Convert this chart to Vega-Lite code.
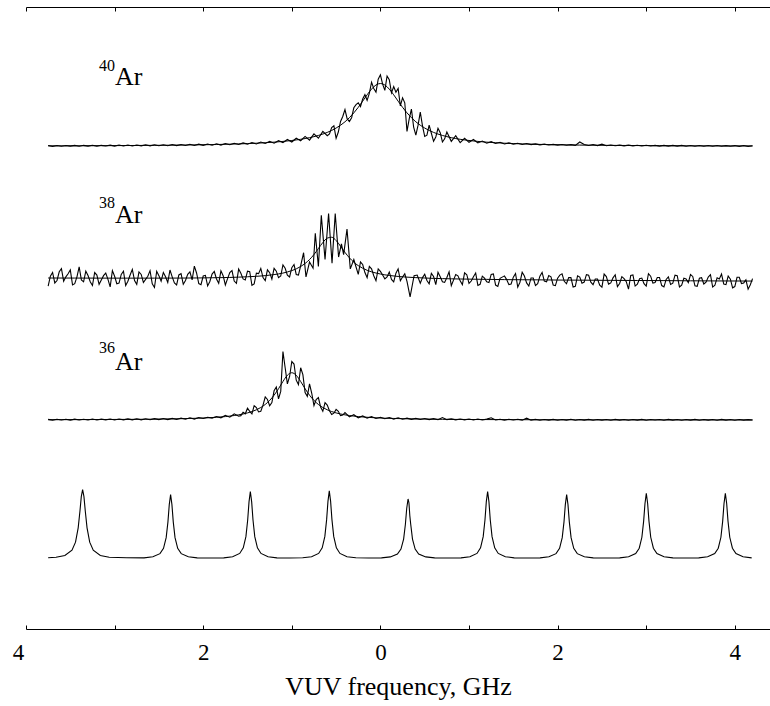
{
"$schema": "https://vega.github.io/schema/vega-lite/v6.json",
"width": 744,
"height": 622,
"autosize": {"type": "none"},
"padding": {"left": 26, "top": 7, "right": 0, "bottom": 77},
"background": "white",
"config": {"view": {"stroke": null}, "font": "Liberation Serif", "line": {"color": "black", "strokeWidth": 1}, "axis": {"domain": true, "domainWidth": 1, "domainOpacity": 1, "domainColor": "black"}},
"datasets": {
"dat40": [{"x":-3.75,"y":77.72},{"x":-3.70,"y":77.60},{"x":-3.65,"y":77.74},{"x":-3.60,"y":77.62},{"x":-3.55,"y":77.73},{"x":-3.50,"y":77.63},{"x":-3.45,"y":77.75},{"x":-3.40,"y":77.62},{"x":-3.35,"y":77.76},{"x":-3.30,"y":77.64},{"x":-3.25,"y":77.77},{"x":-3.20,"y":77.63},{"x":-3.15,"y":77.76},{"x":-3.10,"y":77.65},{"x":-3.05,"y":77.79},{"x":-3.00,"y":77.64},{"x":-2.95,"y":77.80},{"x":-2.90,"y":77.66},{"x":-2.85,"y":77.81},{"x":-2.80,"y":77.66},{"x":-2.75,"y":77.82},{"x":-2.70,"y":77.67},{"x":-2.65,"y":77.84},{"x":-2.60,"y":77.68},{"x":-2.55,"y":77.85},{"x":-2.50,"y":77.69},{"x":-2.45,"y":77.86},{"x":-2.40,"y":77.70},{"x":-2.35,"y":77.88},{"x":-2.30,"y":77.71},{"x":-2.25,"y":77.90},{"x":-2.20,"y":77.73},{"x":-2.15,"y":77.93},{"x":-2.10,"y":77.74},{"x":-2.05,"y":77.95},{"x":-2.00,"y":77.76},{"x":-1.95,"y":77.98},{"x":-1.90,"y":77.78},{"x":-1.85,"y":78.02},{"x":-1.80,"y":77.80},{"x":-1.75,"y":78.06},{"x":-1.70,"y":77.85},{"x":-1.65,"y":78.10},{"x":-1.60,"y":77.90},{"x":-1.55,"y":78.15},{"x":-1.50,"y":77.95},{"x":-1.45,"y":78.20},{"x":-1.40,"y":77.98},{"x":-1.35,"y":78.30},{"x":-1.30,"y":78.05},{"x":-1.25,"y":78.40},{"x":-1.20,"y":78.10},{"x":-1.15,"y":78.50},{"x":-1.10,"y":78.20},{"x":-1.05,"y":78.70},{"x":-1.00,"y":78.30},{"x":-0.95,"y":78.90},{"x":-0.90,"y":78.50},{"x":-0.85,"y":79.20},{"x":-0.80,"y":78.60},{"x":-0.75,"y":79.60},{"x":-0.70,"y":78.90},{"x":-0.65,"y":80.00},{"x":-0.60,"y":79.30},{"x":-0.55,"y":80.60},{"x":-0.50,"y":78.90},{"x":-0.45,"y":81.60},{"x":-0.40,"y":83.50},{"x":-0.35,"y":81.60},{"x":-0.30,"y":83.80},{"x":-0.25,"y":84.60},{"x":-0.20,"y":85.20},{"x":-0.15,"y":85.00},{"x":-0.10,"y":87.90},{"x":-0.05,"y":86.30},{"x":0.00,"y":89.10},{"x":0.05,"y":86.60},{"x":0.10,"y":88.30},{"x":0.15,"y":87.20},{"x":0.20,"y":86.90},{"x":0.25,"y":85.40},{"x":0.30,"y":80.00},{"x":0.35,"y":83.60},{"x":0.40,"y":79.40},{"x":0.45,"y":83.10},{"x":0.50,"y":79.20},{"x":0.55,"y":81.00},{"x":0.60,"y":78.40},{"x":0.65,"y":80.50},{"x":0.70,"y":78.30},{"x":0.75,"y":79.90},{"x":0.80,"y":78.40},{"x":0.85,"y":79.30},{"x":0.90,"y":78.20},{"x":0.95,"y":78.90},{"x":1.00,"y":78.25},{"x":1.05,"y":78.70},{"x":1.10,"y":78.15},{"x":1.15,"y":78.45},{"x":1.20,"y":78.10},{"x":1.25,"y":78.35},{"x":1.30,"y":78.05},{"x":1.35,"y":78.25},{"x":1.40,"y":77.98},{"x":1.45,"y":78.15},{"x":1.50,"y":77.95},{"x":1.55,"y":78.10},{"x":1.60,"y":77.90},{"x":1.65,"y":78.05},{"x":1.70,"y":77.88},{"x":1.75,"y":78.00},{"x":1.80,"y":77.84},{"x":1.85,"y":77.95},{"x":1.90,"y":77.82},{"x":1.95,"y":77.92},{"x":2.00,"y":77.80},{"x":2.05,"y":77.90},{"x":2.10,"y":77.78},{"x":2.15,"y":77.88},{"x":2.20,"y":77.76},{"x":2.25,"y":78.30},{"x":2.30,"y":77.90},{"x":2.35,"y":77.74},{"x":2.40,"y":77.90},{"x":2.45,"y":77.72},{"x":2.50,"y":77.95},{"x":2.55,"y":77.70},{"x":2.60,"y":77.82},{"x":2.65,"y":77.70},{"x":2.70,"y":77.80},{"x":2.75,"y":77.68},{"x":2.80,"y":77.79},{"x":2.85,"y":77.67},{"x":2.90,"y":77.78},{"x":2.95,"y":77.66},{"x":3.00,"y":77.77},{"x":3.05,"y":77.65},{"x":3.10,"y":77.76},{"x":3.15,"y":77.64},{"x":3.20,"y":77.76},{"x":3.25,"y":77.64},{"x":3.30,"y":77.75},{"x":3.35,"y":77.63},{"x":3.40,"y":77.75},{"x":3.45,"y":77.62},{"x":3.50,"y":77.74},{"x":3.55,"y":77.62},{"x":3.60,"y":77.74},{"x":3.65,"y":77.62},{"x":3.70,"y":77.73},{"x":3.75,"y":77.61},{"x":3.80,"y":77.73},{"x":3.85,"y":77.61},{"x":3.90,"y":77.72},{"x":3.95,"y":77.61},{"x":4.00,"y":77.72},{"x":4.05,"y":77.60},{"x":4.10,"y":77.72},{"x":4.15,"y":77.60},{"x":4.20,"y":77.70},
{"x":-0.575,"y":79.6},{"x":-0.525,"y":80.9},{"x":-0.475,"y":79.9},{"x":-0.425,"y":82.4},{"x":-0.375,"y":82.0},{"x":-0.325,"y":82.2},{"x":-0.275,"y":84.3},{"x":-0.225,"y":84.0},{"x":-0.175,"y":85.9},{"x":-0.125,"y":86.1},{"x":-0.075,"y":86.9},{"x":-0.025,"y":88.4},{"x":0.025,"y":87.6},{"x":0.075,"y":88.9},{"x":0.125,"y":86.2},{"x":0.175,"y":86.3},{"x":0.225,"y":84.1},{"x":0.275,"y":84.6},{"x":0.325,"y":82.0},{"x":0.375,"y":80.7},{"x":0.425,"y":81.0},{"x":0.475,"y":80.9},{"x":0.525,"y":79.4},{"x":0.575,"y":79.7},{"x":0.625,"y":79.1},{"x":0.675,"y":79.8},{"x":0.725,"y":78.8}],
"fit40": [{"x":-3.75,"y":77.67},{"x":-3.45,"y":77.68},{"x":-3.15,"y":77.70},{"x":-2.85,"y":77.73},{"x":-2.55,"y":77.76},{"x":-2.25,"y":77.80},{"x":-2.05,"y":77.84},{"x":-1.85,"y":77.89},{"x":-1.70,"y":77.95},{"x":-1.60,"y":77.99},{"x":-1.50,"y":78.04},{"x":-1.40,"y":78.10},{"x":-1.30,"y":78.18},{"x":-1.20,"y":78.27},{"x":-1.10,"y":78.39},{"x":-1.00,"y":78.54},{"x":-0.95,"y":78.63},{"x":-0.90,"y":78.73},{"x":-0.85,"y":78.85},{"x":-0.80,"y":78.99},{"x":-0.75,"y":79.16},{"x":-0.70,"y":79.35},{"x":-0.65,"y":79.57},{"x":-0.60,"y":79.84},{"x":-0.55,"y":80.15},{"x":-0.50,"y":80.54},{"x":-0.45,"y":80.99},{"x":-0.40,"y":81.54},{"x":-0.35,"y":82.20},{"x":-0.30,"y":82.98},{"x":-0.25,"y":83.87},{"x":-0.20,"y":84.86},{"x":-0.15,"y":85.88},{"x":-0.10,"y":86.80},{"x":-0.05,"y":87.46},{"x":0.00,"y":87.70},{"x":0.05,"y":87.46},{"x":0.10,"y":86.80},{"x":0.15,"y":85.88},{"x":0.20,"y":84.86},{"x":0.25,"y":83.87},{"x":0.30,"y":82.98},{"x":0.35,"y":82.20},{"x":0.40,"y":81.54},{"x":0.45,"y":80.99},{"x":0.50,"y":80.54},{"x":0.55,"y":80.15},{"x":0.60,"y":79.84},{"x":0.65,"y":79.57},{"x":0.70,"y":79.35},{"x":0.75,"y":79.16},{"x":0.80,"y":78.99},{"x":0.85,"y":78.85},{"x":0.90,"y":78.73},{"x":0.95,"y":78.63},{"x":1.00,"y":78.54},{"x":1.10,"y":78.39},{"x":1.20,"y":78.27},{"x":1.30,"y":78.18},{"x":1.40,"y":78.10},{"x":1.50,"y":78.04},{"x":1.60,"y":77.99},{"x":1.70,"y":77.95},{"x":1.85,"y":77.89},{"x":2.05,"y":77.84},{"x":2.25,"y":77.80},{"x":2.55,"y":77.76},{"x":2.85,"y":77.73},{"x":3.15,"y":77.70},{"x":3.45,"y":77.68},{"x":3.80,"y":77.67},{"x":4.20,"y":77.66}],
"dat38": [{"x":-3.75,"y":55.13},{"x":-3.70,"y":57.33},{"x":-3.65,"y":56.03},{"x":-3.60,"y":57.93},{"x":-3.55,"y":56.62},{"x":-3.50,"y":57.72},{"x":-3.45,"y":55.52},{"x":-3.40,"y":58.22},{"x":-3.35,"y":55.82},{"x":-3.30,"y":56.82},{"x":-3.25,"y":55.22},{"x":-3.20,"y":56.91},{"x":-3.15,"y":56.11},{"x":-3.10,"y":57.21},{"x":-3.05,"y":55.01},{"x":-3.00,"y":56.71},{"x":-2.95,"y":55.61},{"x":-2.90,"y":57.51},{"x":-2.85,"y":55.91},{"x":-2.80,"y":57.81},{"x":-2.75,"y":55.41},{"x":-2.70,"y":57.01},{"x":-2.65,"y":56.21},{"x":-2.60,"y":57.61},{"x":-2.55,"y":54.91},{"x":-2.50,"y":56.81},{"x":-2.45,"y":57.32},{"x":-2.40,"y":55.72},{"x":-2.35,"y":56.62},{"x":-2.30,"y":55.32},{"x":-2.25,"y":57.12},{"x":-2.20,"y":56.03},{"x":-2.15,"y":57.43},{"x":-2.10,"y":58.34},{"x":-2.05,"y":55.54},{"x":-2.00,"y":56.75},{"x":-1.95,"y":55.16},{"x":-1.90,"y":57.07},{"x":-1.85,"y":56.28},{"x":-1.80,"y":57.59},{"x":-1.75,"y":55.31},{"x":-1.70,"y":57.32},{"x":-1.65,"y":55.94},{"x":-1.60,"y":57.87},{"x":-1.55,"y":56.29},{"x":-1.50,"y":57.53},{"x":-1.45,"y":55.26},{"x":-1.40,"y":57.20},{"x":-1.35,"y":57.96},{"x":-1.30,"y":56.01},{"x":-1.25,"y":57.29},{"x":-1.20,"y":57.98},{"x":-1.15,"y":56.48},{"x":-1.10,"y":58.52},{"x":-1.05,"y":56.9},{"x":-1.00,"y":58.1},{"x":-0.95,"y":57.0},{"x":-0.90,"y":58.4},{"x":-0.867,"y":60.5},{"x":-0.84,"y":56.6},{"x":-0.80,"y":59.0},{"x":-0.76,"y":58.0},{"x":-0.735,"y":63.6},{"x":-0.70,"y":58.3},{"x":-0.667,"y":66.5},{"x":-0.625,"y":59.4},{"x":-0.585,"y":66.8},{"x":-0.546,"y":58.8},{"x":-0.51,"y":66.8},{"x":-0.472,"y":59.8},{"x":-0.44,"y":61.9},{"x":-0.415,"y":60.2},{"x":-0.377,"y":64.3},{"x":-0.34,"y":57.9},{"x":-0.30,"y":59.4},{"x":-0.25,"y":57.0},{"x":-0.20,"y":58.6},{"x":-0.15,"y":56.5},{"x":-0.10,"y":57.9},{"x":-0.05,"y":56.0},{"x":0.00,"y":57.5},{"x":0.05,"y":56.3},{"x":0.10,"y":57.4},{"x":0.15,"y":55.8},{"x":0.20,"y":57.9},{"x":0.25,"y":56.6},{"x":0.30,"y":55.9},{"x":0.335,"y":53.4},{"x":0.38,"y":56.8},{"x":0.45,"y":55.6},{"x":0.50,"y":57.03},{"x":0.55,"y":55.50},{"x":0.60,"y":56.67},{"x":0.65,"y":57.35},{"x":0.70,"y":55.83},{"x":0.75,"y":56.52},{"x":0.80,"y":55.20},{"x":0.85,"y":56.98},{"x":0.90,"y":55.97},{"x":0.95,"y":57.26},{"x":1.00,"y":55.55},{"x":1.05,"y":56.64},{"x":1.10,"y":55.23},{"x":1.15,"y":56.72},{"x":1.20,"y":55.81},{"x":1.25,"y":57.00},{"x":1.30,"y":55.29},{"x":1.35,"y":56.38},{"x":1.40,"y":56.77},{"x":1.45,"y":55.37},{"x":1.50,"y":56.56},{"x":1.55,"y":54.95},{"x":1.60,"y":57.35},{"x":1.65,"y":55.64},{"x":1.70,"y":56.44},{"x":1.75,"y":55.23},{"x":1.80,"y":56.73},{"x":1.85,"y":55.92},{"x":1.90,"y":56.81},{"x":1.95,"y":55.31},{"x":2.00,"y":56.40},{"x":2.05,"y":57.10},{"x":2.10,"y":55.50},{"x":2.15,"y":56.49},{"x":2.20,"y":55.09},{"x":2.25,"y":56.58},{"x":2.30,"y":55.78},{"x":2.35,"y":56.87},{"x":2.40,"y":55.37},{"x":2.45,"y":56.26},{"x":2.50,"y":54.96},{"x":2.55,"y":56.66},{"x":2.60,"y":55.65},{"x":2.65,"y":56.95},{"x":2.70,"y":55.54},{"x":2.75,"y":56.34},{"x":2.80,"y":54.64},{"x":2.85,"y":56.93},{"x":2.90,"y":55.43},{"x":2.95,"y":56.42},{"x":3.00,"y":55.12},{"x":3.05,"y":56.72},{"x":3.10,"y":55.71},{"x":3.15,"y":56.51},{"x":3.20,"y":55.01},{"x":3.25,"y":56.60},{"x":3.30,"y":55.60},{"x":3.35,"y":56.79},{"x":3.40,"y":55.29},{"x":3.45,"y":56.29},{"x":3.50,"y":56.98},{"x":3.55,"y":55.18},{"x":3.60,"y":56.38},{"x":3.65,"y":55.47},{"x":3.70,"y":56.57},{"x":3.75,"y":54.97},{"x":3.80,"y":56.46},{"x":3.85,"y":57.06},{"x":3.90,"y":55.36},{"x":3.95,"y":56.25},{"x":4.00,"y":55.05},{"x":4.05,"y":56.55},{"x":4.10,"y":55.64},{"x":4.15,"y":54.64},{"x":4.20,"y":56.34},
{"x":-3.725,"y":56.73},{"x":-3.675,"y":55.63},{"x":-3.625,"y":57.43},{"x":-3.575,"y":55.92},{"x":-3.525,"y":57.12},{"x":-3.475,"y":55.32},{"x":-3.425,"y":56.62},{"x":-3.375,"y":56.12},{"x":-3.325,"y":57.52},{"x":-3.275,"y":55.82},{"x":-3.225,"y":57.31},{"x":-3.175,"y":55.41},{"x":-3.125,"y":56.81},{"x":-3.075,"y":56.21},{"x":-3.025,"y":57.61},{"x":-2.975,"y":55.51},{"x":-2.925,"y":57.01},{"x":-2.875,"y":55.21},{"x":-2.825,"y":56.91},{"x":-2.775,"y":56.01},{"x":-2.725,"y":57.41},{"x":-2.675,"y":55.71},{"x":-2.625,"y":56.71},{"x":-2.575,"y":55.51},{"x":-2.525,"y":57.51},{"x":-2.475,"y":55.92},{"x":-2.425,"y":56.62},{"x":-2.375,"y":57.72},{"x":-2.325,"y":55.62},{"x":-2.275,"y":56.92},{"x":-2.225,"y":55.42},{"x":-2.175,"y":57.03},{"x":-2.125,"y":56.14},{"x":-2.075,"y":57.24},{"x":-2.025,"y":55.35},{"x":-1.975,"y":56.86},{"x":-1.925,"y":55.87},{"x":-1.875,"y":57.48},{"x":-1.825,"y":55.59},{"x":-1.775,"y":56.80},{"x":-1.725,"y":56.32},{"x":-1.675,"y":57.63},{"x":-1.625,"y":55.56},{"x":-1.575,"y":57.18},{"x":-1.525,"y":56.11},{"x":-1.475,"y":57.45},{"x":-1.425,"y":55.48},{"x":-1.375,"y":57.13},{"x":-1.325,"y":56.49},{"x":-1.275,"y":57.75},{"x":-1.225,"y":56.24},{"x":-1.175,"y":57.53},{"x":-1.125,"y":56.75},
{"x":-1.075,"y":58.0},{"x":-1.025,"y":56.6},{"x":-0.975,"y":58.6},{"x":-0.925,"y":56.9},{"x":-0.275,"y":58.2},{"x":-0.225,"y":59.0},{"x":-0.175,"y":57.3},{"x":-0.125,"y":58.3},{"x":-0.075,"y":56.8},{"x":-0.025,"y":57.9},{"x":0.025,"y":56.9},{"x":0.075,"y":56.6},{"x":0.125,"y":56.2},{"x":0.175,"y":57.2},{"x":0.225,"y":56.0},{"x":0.275,"y":57.1},{"x":0.415,"y":56.9},{"x":0.475,"y":56.5},
{"x":0.525,"y":56.02},{"x":0.575,"y":57.18},{"x":0.625,"y":55.36},{"x":0.675,"y":56.64},{"x":0.725,"y":55.72},{"x":0.775,"y":57.41},{"x":0.825,"y":56.09},{"x":0.875,"y":56.78},{"x":0.925,"y":55.37},{"x":0.975,"y":56.96},{"x":1.025,"y":55.94},{"x":1.075,"y":57.23},{"x":1.125,"y":55.42},{"x":1.175,"y":56.41},{"x":1.225,"y":55.70},{"x":1.275,"y":57.09},{"x":1.325,"y":55.08},{"x":1.375,"y":56.57},{"x":1.425,"y":56.17},{"x":1.475,"y":55.46},{"x":1.525,"y":57.15},{"x":1.575,"y":55.75},{"x":1.625,"y":56.74},{"x":1.675,"y":55.14},{"x":1.725,"y":56.43},{"x":1.775,"y":55.53},{"x":1.825,"y":57.32},{"x":1.875,"y":55.81},{"x":1.925,"y":56.61},{"x":1.975,"y":55.20},{"x":2.025,"y":56.90},{"x":2.075,"y":55.90},{"x":2.125,"y":56.49},{"x":2.175,"y":54.99},{"x":2.225,"y":56.78},{"x":2.275,"y":55.58},{"x":2.325,"y":56.97},{"x":2.375,"y":55.77},{"x":2.425,"y":56.26},{"x":2.475,"y":55.26},{"x":2.525,"y":57.06},{"x":2.575,"y":55.45},{"x":2.625,"y":56.45},{"x":2.675,"y":55.04},{"x":2.725,"y":56.64},{"x":2.775,"y":55.84},{"x":2.825,"y":56.83},{"x":2.875,"y":55.13},{"x":2.925,"y":56.32},{"x":2.975,"y":55.52},{"x":3.025,"y":57.12},{"x":3.075,"y":55.61},{"x":3.125,"y":56.51},{"x":3.175,"y":55.21},{"x":3.225,"y":56.20},{"x":3.275,"y":55.40},{"x":3.325,"y":56.89},{"x":3.375,"y":54.99},{"x":3.425,"y":56.39},{"x":3.475,"y":55.68},{"x":3.525,"y":56.68},{"x":3.575,"y":55.08},{"x":3.625,"y":56.47},{"x":3.675,"y":55.77},{"x":3.725,"y":56.97},{"x":3.775,"y":55.26},{"x":3.825,"y":56.26},{"x":3.875,"y":55.46},{"x":3.925,"y":56.75},{"x":3.975,"y":54.85},{"x":4.025,"y":56.55},{"x":4.075,"y":55.54},{"x":4.125,"y":56.14},{"x":4.175,"y":55.34}],
"fit38": [{"x":-3.75,"y":56.43},{"x":-3.45,"y":56.42},{"x":-3.15,"y":56.41},{"x":-2.85,"y":56.41},{"x":-2.55,"y":56.41},{"x":-2.25,"y":56.42},{"x":-2.05,"y":56.44},{"x":-1.90,"y":56.47},{"x":-1.80,"y":56.49},{"x":-1.70,"y":56.52},{"x":-1.60,"y":56.57},{"x":-1.50,"y":56.63},{"x":-1.40,"y":56.70},{"x":-1.30,"y":56.81},{"x":-1.20,"y":56.98},{"x":-1.10,"y":57.22},{"x":-1.05,"y":57.40},{"x":-1.00,"y":57.62},{"x":-0.95,"y":57.90},{"x":-0.90,"y":58.28},{"x":-0.85,"y":58.77},{"x":-0.80,"y":59.40},{"x":-0.75,"y":60.20},{"x":-0.70,"y":61.16},{"x":-0.65,"y":62.13},{"x":-0.60,"y":62.84},{"x":-0.55,"y":62.98},{"x":-0.50,"y":62.46},{"x":-0.45,"y":61.54},{"x":-0.40,"y":60.55},{"x":-0.35,"y":59.68},{"x":-0.30,"y":58.96},{"x":-0.25,"y":58.42},{"x":-0.20,"y":58.00},{"x":-0.15,"y":57.67},{"x":-0.10,"y":57.42},{"x":-0.05,"y":57.23},{"x":0.00,"y":57.07},{"x":0.05,"y":56.94},{"x":0.10,"y":56.84},{"x":0.20,"y":56.68},{"x":0.30,"y":56.57},{"x":0.40,"y":56.49},{"x":0.50,"y":56.43},{"x":0.60,"y":56.37},{"x":0.70,"y":56.33},{"x":0.80,"y":56.30},{"x":0.90,"y":56.27},{"x":1.00,"y":56.25},{"x":1.20,"y":56.21},{"x":1.40,"y":56.17},{"x":1.60,"y":56.15},{"x":1.80,"y":56.13},{"x":2.00,"y":56.10},{"x":2.30,"y":56.08},{"x":2.60,"y":56.05},{"x":2.90,"y":56.03},{"x":3.20,"y":56.01},{"x":3.50,"y":55.98},{"x":3.80,"y":55.96},{"x":4.20,"y":55.94}],
"dat36": [{"x":-3.75,"y":33.70},{"x":-3.70,"y":33.58},{"x":-3.65,"y":33.72},{"x":-3.60,"y":33.60},{"x":-3.55,"y":33.71},{"x":-3.50,"y":33.59},{"x":-3.45,"y":33.74},{"x":-3.40,"y":33.60},{"x":-3.35,"y":33.73},{"x":-3.30,"y":33.61},{"x":-3.25,"y":33.75},{"x":-3.20,"y":33.60},{"x":-3.15,"y":33.74},{"x":-3.10,"y":33.62},{"x":-3.05,"y":33.77},{"x":-3.00,"y":33.61},{"x":-2.95,"y":33.76},{"x":-2.90,"y":33.63},{"x":-2.85,"y":33.78},{"x":-2.80,"y":33.62},{"x":-2.75,"y":33.80},{"x":-2.70,"y":33.63},{"x":-2.65,"y":33.79},{"x":-2.60,"y":33.65},{"x":-2.55,"y":33.82},{"x":-2.50,"y":33.66},{"x":-2.45,"y":33.84},{"x":-2.40,"y":33.67},{"x":-2.35,"y":33.86},{"x":-2.30,"y":33.68},{"x":-2.25,"y":33.90},{"x":-2.20,"y":33.72},{"x":-2.15,"y":33.95},{"x":-2.10,"y":33.75},{"x":-2.05,"y":34.00},{"x":-2.00,"y":33.85},{"x":-1.95,"y":34.05},{"x":-1.90,"y":33.90},{"x":-1.85,"y":34.15},{"x":-1.80,"y":33.95},{"x":-1.75,"y":34.35},{"x":-1.70,"y":34.05},{"x":-1.65,"y":34.60},{"x":-1.60,"y":34.20},{"x":-1.55,"y":34.85},{"x":-1.50,"y":35.50},{"x":-1.45,"y":34.60},{"x":-1.40,"y":35.60},{"x":-1.35,"y":35.00},{"x":-1.30,"y":37.30},{"x":-1.25,"y":35.90},{"x":-1.20,"y":38.30},{"x":-1.15,"y":37.00},{"x":-1.10,"y":44.60},{"x":-1.05,"y":39.40},{"x":-1.00,"y":43.00},{"x":-0.95,"y":40.00},{"x":-0.90,"y":42.00},{"x":-0.85,"y":38.00},{"x":-0.80,"y":39.40},{"x":-0.75,"y":35.90},{"x":-0.70,"y":37.20},{"x":-0.65,"y":35.00},{"x":-0.60,"y":36.00},{"x":-0.55,"y":34.50},{"x":-0.50,"y":35.30},{"x":-0.45,"y":34.30},{"x":-0.40,"y":34.80},{"x":-0.35,"y":34.10},{"x":-0.30,"y":34.45},{"x":-0.25,"y":33.95},{"x":-0.20,"y":34.25},{"x":-0.15,"y":33.90},{"x":-0.10,"y":34.15},{"x":-0.05,"y":33.85},{"x":0.00,"y":34.05},{"x":0.05,"y":33.80},{"x":0.10,"y":34.00},{"x":0.15,"y":33.75},{"x":0.20,"y":33.95},{"x":0.25,"y":33.72},{"x":0.30,"y":33.90},{"x":0.35,"y":33.70},{"x":0.40,"y":33.86},{"x":0.45,"y":33.68},{"x":0.50,"y":33.84},{"x":0.55,"y":33.66},{"x":0.60,"y":33.82},{"x":0.65,"y":33.65},{"x":0.70,"y":34.00},{"x":0.75,"y":33.66},{"x":0.80,"y":33.78},{"x":0.85,"y":33.62},{"x":0.90,"y":33.77},{"x":0.95,"y":33.62},{"x":1.00,"y":33.76},{"x":1.05,"y":33.61},{"x":1.10,"y":33.75},{"x":1.15,"y":33.60},{"x":1.20,"y":33.74},{"x":1.25,"y":33.95},{"x":1.30,"y":33.60},{"x":1.35,"y":33.73},{"x":1.40,"y":33.59},{"x":1.45,"y":33.72},{"x":1.50,"y":33.60},{"x":1.55,"y":33.71},{"x":1.60,"y":33.58},{"x":1.65,"y":33.90},{"x":1.70,"y":33.58},{"x":1.75,"y":33.70},{"x":1.80,"y":33.57},{"x":1.85,"y":33.69},{"x":1.90,"y":33.58},{"x":1.95,"y":33.70},{"x":2.00,"y":33.56},{"x":2.05,"y":33.68},{"x":2.10,"y":33.58},{"x":2.15,"y":33.71},{"x":2.20,"y":33.57},{"x":2.25,"y":33.68},{"x":2.30,"y":33.59},{"x":2.35,"y":33.70},{"x":2.40,"y":33.56},{"x":2.45,"y":33.69},{"x":2.50,"y":33.58},{"x":2.55,"y":33.68},{"x":2.60,"y":33.57},{"x":2.65,"y":33.70},{"x":2.70,"y":33.58},{"x":2.75,"y":33.69},{"x":2.80,"y":33.56},{"x":2.85,"y":33.68},{"x":2.90,"y":33.58},{"x":2.95,"y":33.70},{"x":3.00,"y":33.57},{"x":3.05,"y":33.68},{"x":3.10,"y":33.59},{"x":3.15,"y":33.69},{"x":3.20,"y":33.56},{"x":3.25,"y":33.70},{"x":3.30,"y":33.58},{"x":3.35,"y":33.68},{"x":3.40,"y":33.57},{"x":3.45,"y":33.69},{"x":3.50,"y":33.58},{"x":3.55,"y":33.70},{"x":3.60,"y":33.56},{"x":3.65,"y":33.68},{"x":3.70,"y":33.58},{"x":3.75,"y":33.69},{"x":3.80,"y":33.57},{"x":3.85,"y":33.70},{"x":3.90,"y":33.58},{"x":3.95,"y":33.68},{"x":4.00,"y":33.57},{"x":4.05,"y":33.69},{"x":4.10,"y":33.58},{"x":4.15,"y":33.66},{"x":4.20,"y":33.60},
{"x":-1.575,"y":34.3},{"x":-1.525,"y":34.6},{"x":-1.475,"y":35.0},{"x":-1.425,"y":35.9},{"x":-1.375,"y":34.9},{"x":-1.325,"y":36.0},{"x":-1.275,"y":36.9},{"x":-1.225,"y":36.4},{"x":-1.175,"y":38.9},{"x":-1.125,"y":38.2},{"x":-1.075,"y":42.0},{"x":-1.025,"y":40.6},{"x":-0.975,"y":42.6},{"x":-0.925,"y":39.3},{"x":-0.875,"y":40.9},{"x":-0.825,"y":37.4},{"x":-0.775,"y":37.9},{"x":-0.725,"y":36.9},{"x":-0.675,"y":35.7},{"x":-0.625,"y":36.4},{"x":-0.575,"y":35.1},{"x":-0.525,"y":34.7},{"x":-0.475,"y":35.0},{"x":-0.425,"y":34.4}],
"fit36": [{"x":-3.75,"y":33.64},{"x":-3.45,"y":33.66},{"x":-3.15,"y":33.68},{"x":-2.85,"y":33.70},{"x":-2.65,"y":33.72},{"x":-2.45,"y":33.76},{"x":-2.25,"y":33.81},{"x":-2.15,"y":33.85},{"x":-2.05,"y":33.89},{"x":-1.95,"y":33.95},{"x":-1.85,"y":34.04},{"x":-1.75,"y":34.15},{"x":-1.70,"y":34.23},{"x":-1.65,"y":34.32},{"x":-1.60,"y":34.43},{"x":-1.55,"y":34.57},{"x":-1.50,"y":34.74},{"x":-1.45,"y":34.96},{"x":-1.40,"y":35.24},{"x":-1.35,"y":35.61},{"x":-1.30,"y":36.10},{"x":-1.25,"y":36.75},{"x":-1.20,"y":37.59},{"x":-1.15,"y":38.63},{"x":-1.10,"y":39.79},{"x":-1.05,"y":40.79},{"x":-1.00,"y":41.20},{"x":-0.95,"y":40.79},{"x":-0.90,"y":39.79},{"x":-0.85,"y":38.63},{"x":-0.80,"y":37.59},{"x":-0.75,"y":36.75},{"x":-0.70,"y":36.10},{"x":-0.65,"y":35.61},{"x":-0.60,"y":35.24},{"x":-0.55,"y":34.96},{"x":-0.50,"y":34.74},{"x":-0.45,"y":34.57},{"x":-0.40,"y":34.43},{"x":-0.35,"y":34.32},{"x":-0.30,"y":34.23},{"x":-0.25,"y":34.15},{"x":-0.15,"y":34.04},{"x":-0.05,"y":33.95},{"x":0.05,"y":33.89},{"x":0.15,"y":33.85},{"x":0.30,"y":33.79},{"x":0.50,"y":33.75},{"x":0.70,"y":33.71},{"x":0.90,"y":33.69},{"x":1.20,"y":33.67},{"x":1.60,"y":33.65},{"x":2.20,"y":33.63},{"x":3.00,"y":33.62},{"x":4.20,"y":33.61}],
"etalon": [{"x":-3.75,"y":11.45},{"x":-3.661,"y":11.54},{"x":-3.561,"y":11.83},{"x":-3.481,"y":12.67},{"x":-3.441,"y":13.96},{"x":-3.411,"y":16.26},{"x":-3.391,"y":18.98},{"x":-3.376,"y":21.29},{"x":-3.361,"y":22.4},{"x":-3.346,"y":21.29},{"x":-3.331,"y":18.98},{"x":-3.311,"y":16.26},{"x":-3.281,"y":13.96},{"x":-3.241,"y":12.67},{"x":-3.161,"y":11.83},{"x":-3.061,"y":11.54},{"x":-2.865,"y":11.45},{"x":-2.668,"y":11.44},{"x":-2.568,"y":11.61},{"x":-2.488,"y":12.11},{"x":-2.448,"y":12.96},{"x":-2.418,"y":14.69},{"x":-2.398,"y":17.23},{"x":-2.383,"y":20.0},{"x":-2.368,"y":21.6},{"x":-2.353,"y":20.0},{"x":-2.338,"y":17.23},{"x":-2.318,"y":14.69},{"x":-2.288,"y":12.96},{"x":-2.248,"y":12.11},{"x":-2.168,"y":11.61},{"x":-2.068,"y":11.44},{"x":-1.918,"y":11.42},{"x":-1.768,"y":11.44},{"x":-1.668,"y":11.62},{"x":-1.588,"y":12.15},{"x":-1.548,"y":13.04},{"x":-1.518,"y":14.85},{"x":-1.498,"y":17.52},{"x":-1.483,"y":20.43},{"x":-1.468,"y":22.1},{"x":-1.453,"y":20.43},{"x":-1.438,"y":17.52},{"x":-1.418,"y":14.85},{"x":-1.388,"y":13.04},{"x":-1.348,"y":12.15},{"x":-1.268,"y":11.62},{"x":-1.168,"y":11.44},{"x":-1.0225,"y":11.42},{"x":-0.877,"y":11.45},{"x":-0.777,"y":11.62},{"x":-0.697,"y":12.15},{"x":-0.657,"y":13.05},{"x":-0.627,"y":14.89},{"x":-0.607,"y":17.58},{"x":-0.592,"y":20.51},{"x":-0.577,"y":22.2},{"x":-0.562,"y":20.51},{"x":-0.547,"y":17.58},{"x":-0.527,"y":14.89},{"x":-0.497,"y":13.05},{"x":-0.457,"y":12.15},{"x":-0.377,"y":11.62},{"x":-0.277,"y":11.45},{"x":-0.1325,"y":11.42},{"x":0.012,"y":11.43},{"x":0.112,"y":11.59},{"x":0.192,"y":12.05},{"x":0.232,"y":12.84},{"x":0.262,"y":14.46},{"x":0.282,"y":16.83},{"x":0.297,"y":19.41},{"x":0.312,"y":20.9},{"x":0.322,"y":20.3},{"x":0.332,"y":18.2},{"x":0.342,"y":16.83},{"x":0.362,"y":14.46},{"x":0.392,"y":12.84},{"x":0.432,"y":12.05},{"x":0.512,"y":11.59},{"x":0.612,"y":11.43},{"x":0.761,"y":11.42},{"x":0.910,"y":11.44},{"x":1.010,"y":11.62},{"x":1.090,"y":12.15},{"x":1.130,"y":13.04},{"x":1.160,"y":14.85},{"x":1.180,"y":17.52},{"x":1.195,"y":20.43},{"x":1.210,"y":22.1},{"x":1.225,"y":20.43},{"x":1.240,"y":17.52},{"x":1.260,"y":14.85},{"x":1.290,"y":13.04},{"x":1.330,"y":12.15},{"x":1.410,"y":11.62},{"x":1.510,"y":11.44},{"x":1.656,"y":11.42},{"x":1.802,"y":11.44},{"x":1.902,"y":11.61},{"x":1.982,"y":12.11},{"x":2.022,"y":12.96},{"x":2.052,"y":14.69},{"x":2.072,"y":17.23},{"x":2.087,"y":20.0},{"x":2.102,"y":21.6},{"x":2.117,"y":20.0},{"x":2.132,"y":17.23},{"x":2.152,"y":14.69},{"x":2.182,"y":12.96},{"x":2.222,"y":12.11},{"x":2.302,"y":11.61},{"x":2.402,"y":11.44},{"x":2.5515,"y":11.42},{"x":2.701,"y":11.44},{"x":2.801,"y":11.61},{"x":2.881,"y":12.12},{"x":2.921,"y":12.99},{"x":2.951,"y":14.75},{"x":2.971,"y":17.35},{"x":2.986,"y":20.17},{"x":3.001,"y":21.8},{"x":3.016,"y":20.17},{"x":3.031,"y":17.35},{"x":3.051,"y":14.75},{"x":3.081,"y":12.99},{"x":3.121,"y":12.12},{"x":3.201,"y":11.61},{"x":3.301,"y":11.44},{"x":3.447,"y":11.42},{"x":3.593,"y":11.44},{"x":3.693,"y":11.61},{"x":3.773,"y":12.12},{"x":3.813,"y":12.99},{"x":3.843,"y":14.75},{"x":3.863,"y":17.35},{"x":3.878,"y":20.17},{"x":3.893,"y":21.8},{"x":3.908,"y":20.17},{"x":3.923,"y":17.35},{"x":3.943,"y":14.75},{"x":3.973,"y":12.99},{"x":4.013,"y":12.12},{"x":4.093,"y":11.61},{"x":4.19,"y":11.44}],
"ar": [{"x":-2.995,"y":87.46,"t":"Ar"},{"x":-2.995,"y":65.27,"t":"Ar"},{"x":-2.995,"y":41.64,"t":"Ar"}],
"sup": [{"x":-2.995,"y":89.76,"t":"40"},{"x":-2.995,"y":67.68,"t":"38"},{"x":-2.995,"y":44.37,"t":"36"}]
},
"resolve": {"axis": {"x": "independent"}},
"layer": [
{"data": {"name": "dat40"}, "mark": {"type": "line", "strokeWidth": 1.1},
 "encoding": {
  "x": {"field": "x", "type": "quantitative", "scale": {"domain": [-4, 4.397], "nice": false, "zero": false},
   "axis": {"orient": "bottom", "domain": true, "values": [-4,-3,-2,-1,0,1,2,3,4], "labelExpr": "datum.value % 2 == 0 ? format(abs(datum.value), 'd') : ''", "labelFlush": false, "labelOffset": {"condition": {"test": "datum.value == -4", "value": -8}, "value": 0}, "tickSize": -4, "tickColor": "black", "domainColor": "black", "grid": false, "labelFont": "Liberation Serif", "labelFontSize": 23, "labelColor": "black", "labelPadding": 16, "title": "VUV frequency, GHz", "titleFont": "Liberation Serif", "titleFontSize": 26, "titleFontWeight": "normal", "titleColor": "black", "titlePadding": 9}},
  "y": {"field": "y", "type": "quantitative", "scale": {"domain": [0, 100], "nice": false, "zero": false},
   "axis": {"orient": "left", "domain": true, "ticks": false, "labels": false, "title": null, "grid": false, "domainColor": "black"}}
 }},
{"data": {"name": "fit40"}, "mark": {"type": "line", "interpolate": "monotone"},
 "encoding": {
  "x": {"field": "x", "type": "quantitative", "axis": {"orient": "top", "domain": true, "values": [-4,-3,-2,-1,0,1,2,3,4], "labels": false, "tickSize": -4, "tickColor": "black", "domainColor": "black", "grid": false, "title": null}},
  "y": {"field": "y", "type": "quantitative", "axis": null}}},
{"data": {"name": "dat38"}, "mark": {"type": "line", "strokeWidth": 1.1},
 "encoding": {"x": {"field": "x", "type": "quantitative", "axis": null}, "y": {"field": "y", "type": "quantitative", "axis": null}}},
{"data": {"name": "fit38"}, "mark": {"type": "line", "interpolate": "monotone"},
 "encoding": {"x": {"field": "x", "type": "quantitative", "axis": null}, "y": {"field": "y", "type": "quantitative", "axis": null}}},
{"data": {"name": "dat36"}, "mark": {"type": "line", "strokeWidth": 1.1},
 "encoding": {"x": {"field": "x", "type": "quantitative", "axis": null}, "y": {"field": "y", "type": "quantitative", "axis": null}}},
{"data": {"name": "fit36"}, "mark": {"type": "line", "interpolate": "monotone"},
 "encoding": {"x": {"field": "x", "type": "quantitative", "axis": null}, "y": {"field": "y", "type": "quantitative", "axis": null}}},
{"data": {"name": "etalon"}, "mark": {"type": "line", "strokeWidth": 1.1},
 "encoding": {"x": {"field": "x", "type": "quantitative", "axis": null}, "y": {"field": "y", "type": "quantitative", "axis": null}}},
{"data": {"name": "ar"}, "mark": {"type": "text", "font": "Liberation Serif", "fontSize": 26, "align": "left", "baseline": "alphabetic", "color": "black"},
 "encoding": {"x": {"field": "x", "type": "quantitative", "axis": null}, "y": {"field": "y", "type": "quantitative", "axis": null}, "text": {"field": "t"}}},
{"data": {"name": "sup"}, "mark": {"type": "text", "font": "Liberation Serif", "fontSize": 16, "align": "right", "baseline": "alphabetic", "color": "black"},
 "encoding": {"x": {"field": "x", "type": "quantitative", "axis": null}, "y": {"field": "y", "type": "quantitative", "axis": null}, "text": {"field": "t"}}}
]
}
